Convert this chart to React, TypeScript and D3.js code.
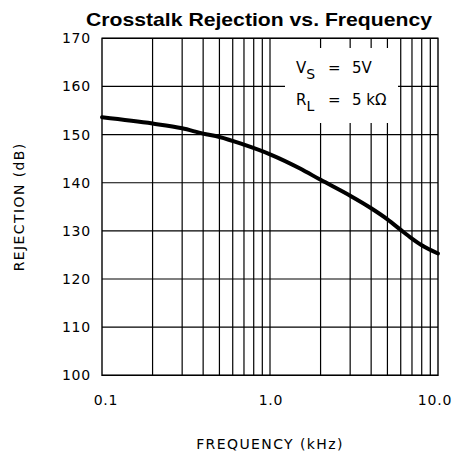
import React, { useEffect, useRef } from 'react';
import * as d3 from 'd3';

const freqs = [0.1, 0.2, 0.3, 0.4, 0.5, 0.7, 1, 1.5, 2, 3, 4, 5, 6, 7, 8, 10];
const rejection = [153.6, 152.3, 151.3, 150.2, 149.5, 147.9, 145.9, 143.0, 140.6, 137.3, 134.7, 132.4, 130.2, 128.4, 127.0, 125.3];
const xTicks = [0.1, 1, 10];
const xTickLabels = ['0.1', '1.0', '10.0'];
const yTicks = [100, 110, 120, 130, 140, 150, 160, 170];
const gridFreqs = [0.2, 0.3, 0.4, 0.5, 0.6, 0.7, 0.8, 0.9, 1, 2, 3, 4, 5, 6, 7, 8, 9];

const W = 456;
const H = 454;
const left = 102;
const right = 438;
const top = 38.3;
const bottom = 375.3;

const App = () => {
  const ref = useRef<SVGSVGElement>(null);

  useEffect(() => {
    const svg = d3.select(ref.current);
    svg.selectAll('*').remove();

    const x = d3.scaleLog().domain([0.1, 10]).range([left, right]);
    const y = d3.scaleLinear().domain([100, 170]).range([bottom, top]);
    const font = 'DejaVu Sans, sans-serif';

    // grid
    svg.append('g')
      .selectAll('line')
      .data(gridFreqs)
      .enter()
      .append('line')
      .attr('x1', d => x(d))
      .attr('x2', d => x(d))
      .attr('y1', top)
      .attr('y2', bottom)
      .attr('stroke', '#000')
      .attr('stroke-width', 1.2);

    svg.append('g')
      .selectAll('line')
      .data(yTicks)
      .enter()
      .append('line')
      .attr('x1', left)
      .attr('x2', right)
      .attr('y1', d => y(d))
      .attr('y2', d => y(d))
      .attr('stroke', '#000')
      .attr('stroke-width', 1.2);

    // frame
    svg.append('rect')
      .attr('x', left)
      .attr('y', top)
      .attr('width', right - left)
      .attr('height', bottom - top)
      .attr('fill', 'none')
      .attr('stroke', '#000')
      .attr('stroke-width', 1.4);

    // annotation box covers the grid
    svg.append('rect')
      .attr('x', 285)
      .attr('y', 48)
      .attr('width', 113)
      .attr('height', 75)
      .attr('fill', '#fff');

    const ann = svg.append('g')
      .attr('font-family', font)
      .attr('font-size', 15)
      .attr('fill', '#000');
    const l1 = ann.append('text').attr('x', 296).attr('y', 73);
    l1.append('tspan').text('V');
    l1.append('tspan').attr('font-size', 14).attr('dy', 6).text('S');
    l1.append('tspan').attr('dy', -6).attr('x', 328).text('=');
    l1.append('tspan').attr('x', 352).text('5V');
    const l2 = ann.append('text').attr('x', 296).attr('y', 105);
    l2.append('tspan').text('R');
    l2.append('tspan').attr('font-size', 14).attr('dy', 6).text('L');
    l2.append('tspan').attr('dy', -6).attr('x', 328).text('=');
    l2.append('tspan').attr('x', 352).text('5 k\u03A9');

    // curve
    const line = d3.line<number>()
      .x((d, i) => x(freqs[i]))
      .y(d => y(d))
      .curve(d3.curveMonotoneX);
    svg.append('path')
      .datum(rejection)
      .attr('d', line)
      .attr('fill', 'none')
      .attr('stroke', '#000')
      .attr('stroke-width', 4)
      .attr('stroke-linecap', 'round');

    // tick labels
    svg.append('g')
      .selectAll('text')
      .data(yTicks)
      .enter()
      .append('text')
      .attr('x', 91)
      .attr('y', d => y(d))
      .attr('dy', '0.36em')
      .attr('text-anchor', 'end')
      .attr('font-family', font)
      .attr('font-size', 14)
      .attr('letter-spacing', 0.8)
      .text(d => d);

    svg.append('g')
      .selectAll('text')
      .data(xTicks)
      .enter()
      .append('text')
      .attr('x', (d, i) => x(d) + (i === 0 ? 4 : i === 2 ? -3 : 1))
      .attr('y', 405)
      .attr('text-anchor', 'middle')
      .attr('font-family', font)
      .attr('font-size', 14)
      .attr('letter-spacing', 0.8)
      .text((d, i) => xTickLabels[i]);

    // axis titles
    svg.append('text')
      .attr('x', 270)
      .attr('y', 449)
      .attr('text-anchor', 'middle')
      .attr('font-family', font)
      .attr('font-size', 14)
      .attr('letter-spacing', 1.4)
      .text('FREQUENCY (kHz)');

    svg.append('text')
      .attr('transform', `translate(24, ${(top + bottom) / 2}) rotate(-90)`)
      .attr('text-anchor', 'middle')
      .attr('font-family', font)
      .attr('font-size', 14)
      .attr('letter-spacing', 1.4)
      .text('REJECTION (dB)');

    svg.append('text')
      .attr('x', 86)
      .attr('y', 26)
      .attr('font-family', 'Liberation Sans, Arial, sans-serif')
      .attr('font-weight', 'bold')
      .attr('font-size', 19)
      .attr('textLength', 346)
      .attr('lengthAdjust', 'spacingAndGlyphs')
      .text('Crosstalk Rejection vs. Frequency');
  }, []);

  return (
    <svg
      ref={ref}
      width={W}
      height={H}
      style={{ position: 'absolute', left: 0, top: 0, background: '#fff' }}
    />
  );
};

export default App;
